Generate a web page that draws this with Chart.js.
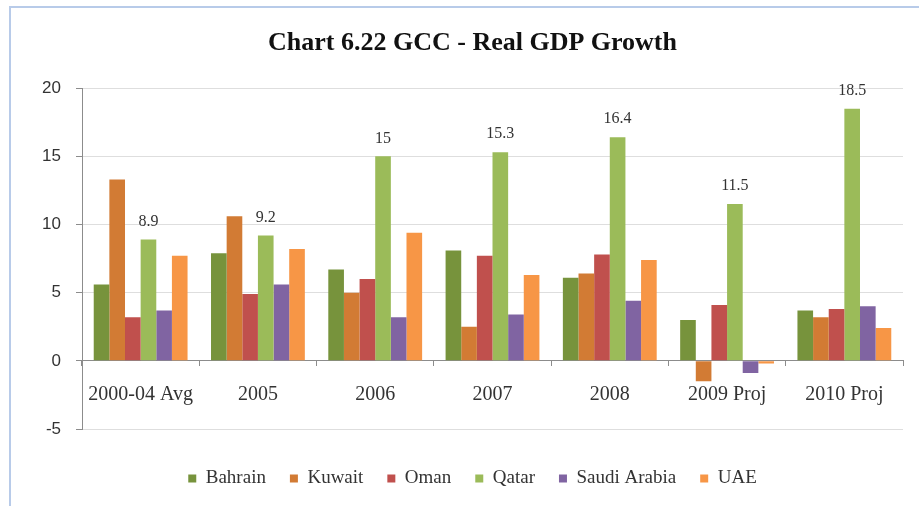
<!DOCTYPE html>
<html>
<head>
<meta charset="utf-8">
<title>GCC - Real GDP Growth</title>
<script src="https://cdn.jsdelivr.net/npm/chart.js@4/dist/chart.umd.min.js"></script>
<style>
  html, body { margin: 0; padding: 0; background: #fff; }
  #wrap { position: relative; width: 919px; height: 506px; }
  #frame {
    position: absolute; left: 9px; top: 6px; right: 0; bottom: 0;
    border-left: 2px solid #b8cbe9; border-top: 2px solid #b8cbe9;
    pointer-events: none;
  }
  canvas { position: absolute; left: 0; top: 0; }
</style>
</head>
<body>
<div id="wrap">
  <canvas id="gdpChart" width="919" height="506"></canvas>
  <div id="frame"></div>
</div>
<script>
// real GDP growth, %
const years = ['2000-04 Avg', '2005', '2006', '2007', '2008', '2009 Proj', '2010 Proj'];
const bahrain = [5.6, 7.9, 6.7, 8.1, 6.1, 3.0, 3.7];
const kuwait  = [13.3, 10.6, 5.0, 2.5, 6.4, -1.5, 3.2];
const oman    = [3.2, 4.9, 6.0, 7.7, 7.8, 4.1, 3.8];
const qatar   = [8.9, 9.2, 15, 15.3, 16.4, 11.5, 18.5];
const saudi   = [3.7, 5.6, 3.2, 3.4, 4.4, -0.9, 4.0];
const uae     = [7.7, 8.2, 9.4, 6.3, 7.4, -0.2, 2.4];
const yTicks  = [-5, 0, 5, 10, 15, 20];

const serif = "'Liberation Serif', 'Times New Roman', serif";

// only Qatar gets its values printed on top
const qatarLabels = {
  id: 'qatarLabels',
  afterDatasetsDraw(chart) {
    const meta = chart.getDatasetMeta(3);
    const ctx = chart.ctx;
    ctx.save();
    ctx.font = '16px ' + serif;
    ctx.fillStyle = '#333';
    ctx.textAlign = 'center';
    ctx.textBaseline = 'bottom';
    meta.data.forEach((bar, i) => {
      ctx.fillText(String(qatar[i]), bar.x, bar.y - 10);
    });
    ctx.restore();
  }
};

function bars(label, data, color) {
  return { label: label, data: data, backgroundColor: color, borderWidth: 0 };
}

new Chart(document.getElementById('gdpChart'), {
  type: 'bar',
  data: {
    labels: years,
    datasets: [
      bars('Bahrain', bahrain, '#77933c'),
      bars('Kuwait', kuwait, '#d27b34'),
      bars('Oman', oman, '#c0504d'),
      bars('Qatar', qatar, '#9bbb59'),
      bars('Saudi Arabia', saudi, '#8064a2'),
      bars('UAE', uae, '#f79646')
    ]
  },
  options: {
    responsive: false,
    animation: false,
    layout: { padding: { left: 42, right: 16, top: 0, bottom: 8 } },
    datasets: { bar: { barPercentage: 1, categoryPercentage: 0.8 } },
    scales: {
      x: {
        position: { y: 0 },
        grid: { drawOnChartArea: false, tickLength: 5, color: '#8c8c8c' },
        border: { color: '#8c8c8c' },
        ticks: { font: { family: serif, size: 20 }, color: '#333', padding: 17, maxRotation: 0 }
      },
      // empty strip that keeps the legend clear of the plot
      xGap: {
        type: 'category',
        position: 'bottom',
        grid: { display: false },
        border: { display: false },
        ticks: { display: false },
        afterFit(scale) { scale.height = 16; }
      },
      y: {
        min: -5,
        max: 20,
        afterBuildTicks(scale) { scale.ticks = yTicks.map(v => ({ value: v })); },
        afterFit(scale) { scale.width = 40; },
        grid: { color: '#dedede', tickColor: '#8c8c8c', tickLength: 6 },
        border: { color: '#8c8c8c' },
        ticks: { font: { family: "'Liberation Sans', Arial, sans-serif", size: 17 }, color: '#333', padding: 15 }
      }
    },
    plugins: {
      title: {
        display: true,
        text: 'Chart 6.22 GCC - Real GDP Growth',
        color: '#111',
        font: { family: serif, size: 26, weight: 'bold' },
        padding: { top: 28, bottom: 29 }
      },
      legend: {
        position: 'bottom',
        labels: {
          boxWidth: 8,
          boxHeight: 8,
          padding: 24,
          color: '#333',
          font: { family: serif, size: 19 }
        }
      },
      tooltip: { enabled: false }
    }
  },
  plugins: [qatarLabels]
});
</script>
</body>
</html>
